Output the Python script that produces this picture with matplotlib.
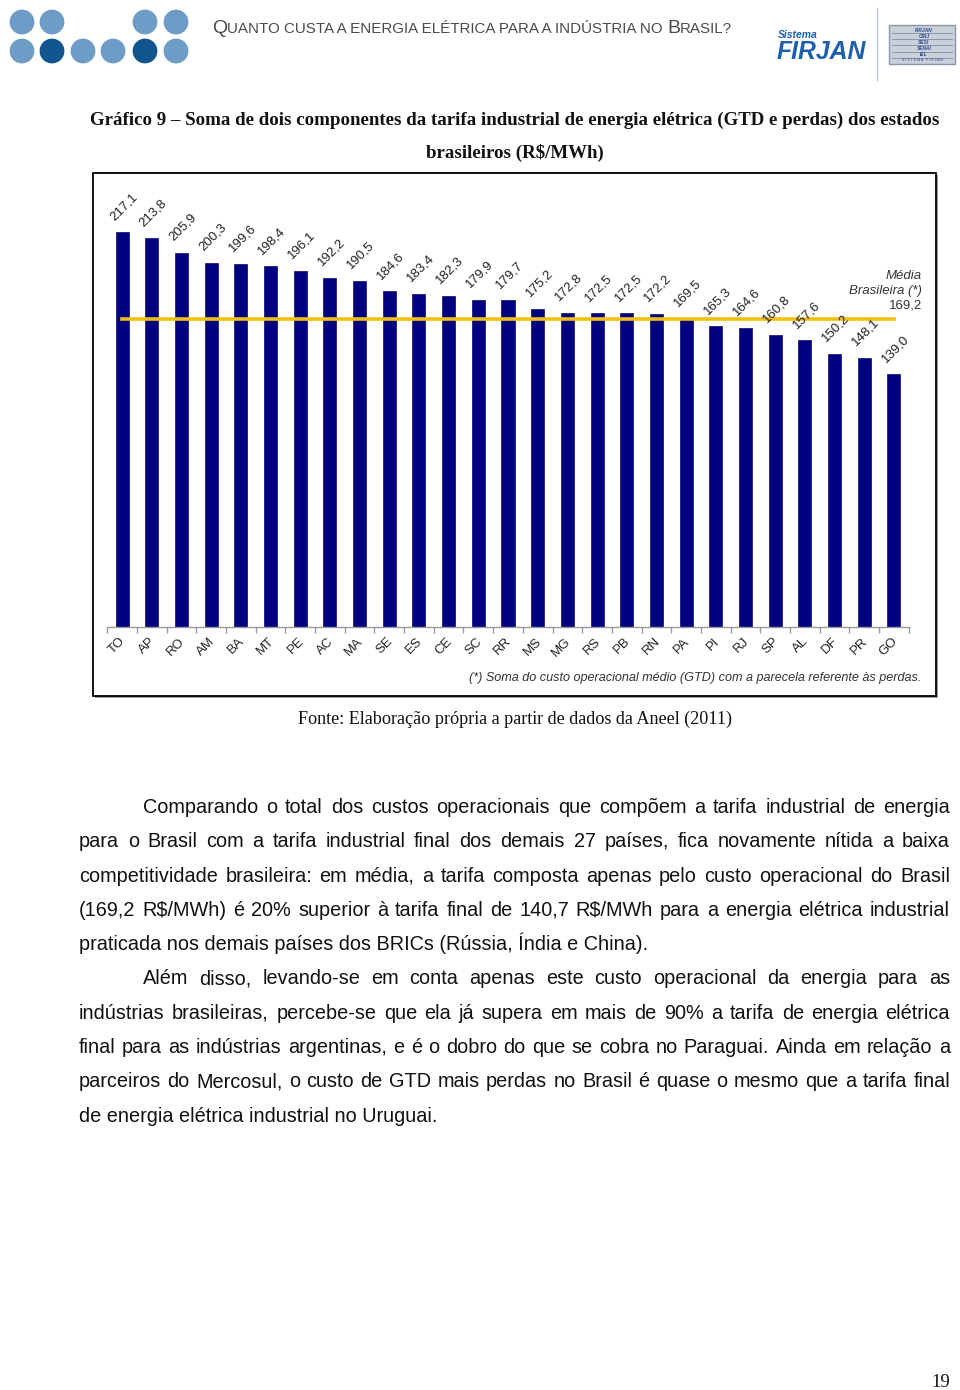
import matplotlib
matplotlib.use("Agg")
import matplotlib.pyplot as plt
import matplotlib.transforms as mtrans
from matplotlib.patches import Rectangle, Circle

# =====================================================
# DATA
# =====================================================

estados = ["TO", "AP", "RO", "AM", "BA", "MT", "PE", "AC", "MA", "SE", "ES", "CE",
           "SC", "RR", "MS", "MG", "RS", "PB", "RN", "PA", "PI", "RJ", "SP", "AL",
           "DF", "PR", "GO"]
valores = [217.1, 213.8, 205.9, 200.3, 199.6, 198.4, 196.1, 192.2, 190.5, 184.6,
           183.4, 182.3, 179.9, 179.7, 175.2, 172.8, 172.5, 172.5, 172.2, 169.5,
           165.3, 164.6, 160.8, 157.6, 150.2, 148.1, 139.0]
media = 169.2

titulo_1 = ("Gráfico 9 – Soma de dois componentes da tarifa industrial de energia "
            "elétrica (GTD e perdas) dos estados")
titulo_2 = "brasileiros (R$/MWh)"
fonte = "Fonte: Elaboração própria a partir de dados da Aneel (2011)"
nota = "(*) Soma do custo operacional médio (GTD) com a parecela referente às perdas."

paragrafo_1 = [
    "Comparando o total dos custos operacionais que compõem a tarifa industrial de energia",
    "para o Brasil com a tarifa industrial final dos demais 27 países, fica novamente nítida a baixa",
    "competitividade brasileira: em média, a tarifa composta apenas pelo custo operacional do Brasil",
    "(169,2 R$/MWh) é 20% superior à tarifa final de 140,7 R$/MWh para a energia elétrica industrial",
    "praticada nos demais países dos BRICs (Rússia, Índia e China).",
]
paragrafo_2 = [
    "Além disso, levando-se em conta apenas este custo operacional da energia para as",
    "indústrias brasileiras, percebe-se que ela já supera em mais de 90% a tarifa de energia elétrica",
    "final para as indústrias argentinas, e é o dobro do que se cobra no Paraguai. Ainda em relação a",
    "parceiros do Mercosul, o custo de GTD mais perdas no Brasil é quase o mesmo que a tarifa final",
    "de energia elétrica industrial no Uruguai.",
]

# =====================================================
# PAGE
# =====================================================

W, H = 960, 1390
fig = plt.figure(figsize=(W / 100, H / 100), dpi=100)
page = fig.add_axes([0, 0, 1, 1])
page.set_xlim(0, W)
page.set_ylim(H, 0)
page.axis("off")

sans = "Liberation Sans"
serif = "Liberation Serif"
renderer = fig.canvas.get_renderer()

# header dots
light = "#6d9cc7"
dark = "#105590"
dots_top = [22, 52, 145, 176]
dots_bottom = [22, 52, 83, 113, 145, 176]
for x in dots_top:
    page.add_patch(Circle((x, 22), 11.7, color=light))
for i, x in enumerate(dots_bottom):
    page.add_patch(Circle((x, 51), 11.7, color=dark if i in (1, 4) else light))

# header title in small caps
hx = 212
cor_head = "#4a4a4a"
partes = [("Q", 14), ("UANTO CUSTA A ENERGIA ELÉTRICA PARA A INDÚSTRIA NO ", 10.9),
          ("B", 14), ("RASIL?", 10.9)]
for txt, fs in partes:
    t = page.text(hx, 33, txt, fontsize=fs, family=sans, color=cor_head, va="baseline")
    hx += t.get_window_extent(renderer).width

# FIRJAN logo
page.text(778, 38, "Sistema", fontsize=7.5, family=sans, weight="bold",
          style="italic", color="#1d5fae")
page.text(777, 59, "FIRJAN", fontsize=17.8, family=sans, weight="bold",
          style="italic", color="#1d5fae")
page.plot([877, 877], [8, 80], color="#b8c6d6", lw=1)
page.add_patch(Rectangle((889, 25), 66, 39, facecolor="#c9d0da", edgecolor="#8a96a6", lw=1))
for k, nome in enumerate(["FIRJAN", "CIRJ", "SESI", "SENAI", "IEL"]):
    yy = 30 + k * 6.2
    page.plot([892, 952], [yy + 3, yy + 3], color="#7f8fa6", lw=0.6)
    page.text(924, yy, nome, fontsize=3.5, family=sans, weight="bold",
              style="italic", color="#2a4a8a", ha="center", va="center")
page.text(922, 60, "S I S T E M A   F I R J A N", fontsize=2.5, family=sans,
          color="#2a4a8a", ha="center", va="center")

# title
page.text(515, 125, titulo_1, fontsize=13.6, family=serif, weight="bold",
          ha="center", va="baseline", color="#111111")
page.text(515, 158, titulo_2, fontsize=13.6, family=serif, weight="bold",
          ha="center", va="baseline", color="#111111")

# chart frame with shadow
page.add_patch(Rectangle((95, 175), 843, 523, facecolor="#9a9a9a", edgecolor="none"))
page.add_patch(Rectangle((93, 173), 843, 523, facecolor="white", edgecolor="black", lw=1.3))

# source
page.text(515, 724, fonte, fontsize=13.1, family=serif, ha="center", va="baseline",
          color="#111111")

# page number
page.text(950, 1387, "19", fontsize=13.5, family=serif, ha="right", va="baseline",
          color="#111111")

# =====================================================
# BAR CHART
# =====================================================

ax = fig.add_axes([107.2 / W, 1 - 627 / H, 801.6 / W, 436.3 / H])
ax.set_xlim(-0.5, len(estados) - 0.5)
ax.set_ylim(0, 240)
ax.patch.set_alpha(0)

xs = list(range(len(estados)))
ax.bar(xs, valores, width=0.44, color="#000080", edgecolor="#0a0a6a", lw=0.5, zorder=2)
ax.plot([xs[0], xs[-1]], [media, media], color="#f2c010", lw=2.6, zorder=3)

for x, v in zip(xs, valores):
    ax.annotate(f"{v:.1f}".replace(".", ","), (x, v), xytext=(1, 7),
                textcoords="offset points", rotation=45, ha="center", va="bottom",
                fontsize=9.5, family=sans, color="#222222")

ax.text(26.95, 193, "Média", fontsize=9.5, family=sans, style="italic",
        color="#333333", ha="right", va="center")
ax.text(26.95, 185, "Brasileira (*)", fontsize=9.5, family=sans, style="italic",
        color="#333333", ha="right", va="center")
ax.text(26.95, 177, "169,2", fontsize=9.5, family=sans,
        color="#333333", ha="right", va="center")

for s in ["top", "left", "right"]:
    ax.spines[s].set_visible(False)
ax.spines["bottom"].set_color("#999999")
ax.spines["bottom"].set_linewidth(1)
ax.set_yticks([])
ax.set_xticks([x + 0.5 for x in xs[:-1]] + [-0.5, 26.5], minor=True)
ax.tick_params(axis="x", which="minor", length=4, color="#999999", width=1)
ax.set_xticks(xs)
ax.tick_params(axis="x", which="major", length=0, pad=6)
ax.set_xticklabels(estados, rotation=45, ha="right", va="top", fontsize=9.5,
                   family=sans, color="#222222")
desloca = mtrans.ScaledTranslation(0.06, 0, fig.dpi_scale_trans)
for lab in ax.get_xticklabels():
    lab.set_transform(lab.get_transform() + desloca)

page.text(921, 681, nota, fontsize=9.1, family=sans, style="italic",
          color="#333333", ha="right", va="baseline")

# =====================================================
# BODY TEXT (justified)
# =====================================================

left, right = 79, 950
indent = 143
fs_body = 14.3


def linha(y, texto, x0, justificar):
    palavras = texto.split(" ")
    if not justificar:
        page.text(x0, y, texto, fontsize=fs_body, family=sans, va="baseline",
                  color="#111111")
        return
    objs = [page.text(0, y, p, fontsize=fs_body, family=sans, va="baseline",
                      color="#111111") for p in palavras]
    larg = [o.get_window_extent(renderer).width for o in objs]
    gap = (right - x0 - sum(larg)) / (len(objs) - 1)
    x = x0
    for o, w in zip(objs, larg):
        o.set_x(x)
        x += w + gap


y = 813
for par in [paragrafo_1, paragrafo_2]:
    for i, texto in enumerate(par):
        x0 = indent if i == 0 else left
        linha(y, texto, x0, i < len(par) - 1)
        y += 34.3

fig.savefig("out.png", dpi=100)
